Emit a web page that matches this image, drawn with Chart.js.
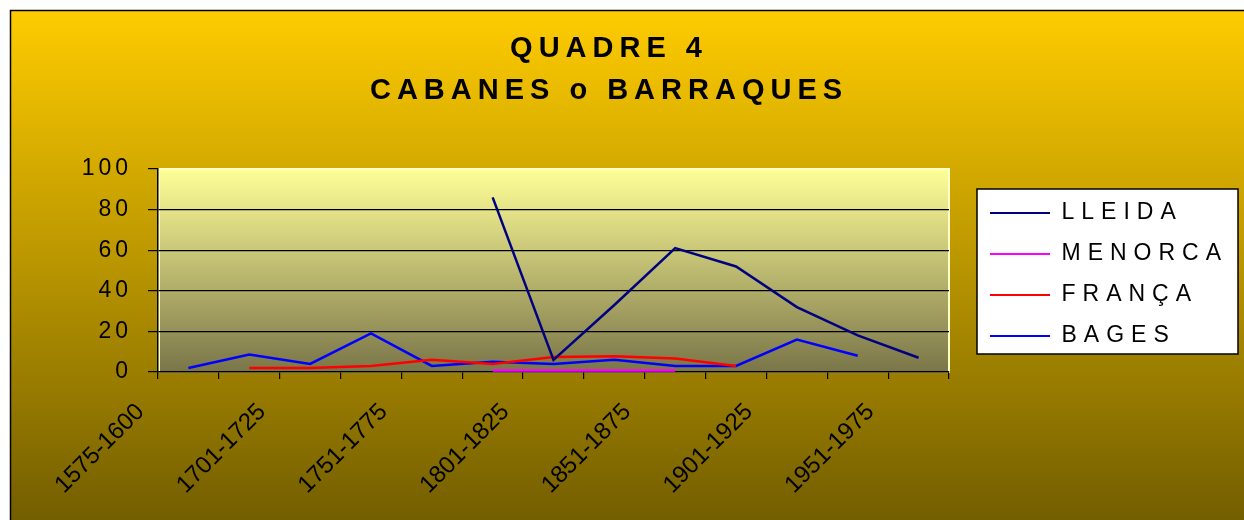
<!DOCTYPE html>
<html>
<head>
<meta charset="utf-8">
<title>Quadre 4</title>
<script src="https://cdn.jsdelivr.net/npm/chart.js@4.4.1/dist/chart.umd.min.js"></script>
<style>
  html, body { margin: 0; padding: 0; background: #fff; }
  canvas { display: block; }
</style>
</head>
<body>
<canvas id="chart" width="1244" height="520"></canvas>
<script>
// data
const periods = ["1575-1600", "1676-1700", "1701-1725", "1726-1750", "1751-1775", "1776-1800",
  "1801-1825", "1826-1850", "1851-1875", "1876-1900", "1901-1925", "1926-1950", "1951-1975"];
const lleida  = [null, null, null, null, null, 86, 6, 33, 61, 52, 32, 18, 7];
const menorca = [null, null, null, null, null, 0.7, 0.7, 0.7, 0.7, null, null, null, null];
const franca  = [null, 2, 2, 3, 6, 4, 7.4, 7.8, 6.6, 3, null, null, null];
const bages   = [2, 8.6, 4, 19, 3, 5, 4, 6, 3, 3, 16, 8, null];
const yTicks  = [0, 20, 40, 60, 80, 100];
const titleLines = ["QUADRE 4", "CABANES o BARRAQUES"];

const FONT = "'Liberation Sans', Arial, sans-serif";

// letter spacing (and an optional shift) around one draw/fit method
function withSpacing(obj, key, spacing, dx, dy) {
  if (!obj || !obj[key] || obj[key]._spaced) return;
  const orig = obj[key];
  const wrapped = function () {
    const ctx = this.ctx;
    ctx.save();
    ctx.letterSpacing = spacing;
    ctx.translate(dx || 0, dy || 0);
    const out = orig.apply(this, arguments);
    ctx.restore();
    return out;
  };
  wrapped._spaced = true;
  obj[key] = wrapped;
}

// gold background, plot gradient, white legend box
const backdrop = {
  id: "backdrop",
  beforeLayout(chart) {
    withSpacing(chart.legend, "fit", "7px");
  },
  beforeDraw(chart) {
    withSpacing(chart.titleBlock, "draw", "6px");
    withSpacing(chart.legend, "draw", "7px", 23, 4);
    withSpacing(chart.scales.y, "drawLabels", "4px");

    const { ctx, chartArea: a, legend, width, height } = chart;
    ctx.save();
    ctx.fillStyle = "#fff";
    ctx.fillRect(0, 0, width, height);

    const g = ctx.createLinearGradient(0, 10, 0, height);
    g.addColorStop(0, "#FFCC00");
    g.addColorStop(1, "#735E00");
    ctx.fillStyle = g;
    ctx.fillRect(10, 10, width - 10, height - 10);
    ctx.strokeStyle = "#000";
    ctx.lineWidth = 1.5;
    ctx.beginPath();
    ctx.moveTo(10.5, height);
    ctx.lineTo(10.5, 10.5);
    ctx.lineTo(width, 10.5);
    ctx.stroke();

    const pg = ctx.createLinearGradient(0, a.top, 0, a.bottom);
    pg.addColorStop(0, "#FFFF99");
    pg.addColorStop(1, "#7A7548");
    ctx.fillStyle = pg;
    ctx.fillRect(a.left, a.top, a.right - a.left, a.bottom - a.top);
    ctx.strokeStyle = "#FFFFC8";
    ctx.lineWidth = 2;
    ctx.strokeRect(a.left + 1, a.top, a.right - a.left - 1, a.bottom - a.top);

    const lx = legend.left + 28, ly = legend.top + 20;
    ctx.fillStyle = "#fff";
    ctx.fillRect(lx, ly, 261, 165);
    ctx.strokeStyle = "#000";
    ctx.lineWidth = 1.5;
    ctx.strokeRect(lx, ly, 261, 165);
    ctx.restore();
  }
};

new Chart(document.getElementById("chart"), {
  type: "line",
  data: {
    labels: periods,
    datasets: [
      { label: "LLEIDA", data: lleida, borderColor: "#000080", backgroundColor: "#000080" },
      { label: "MENORCA", data: menorca, borderColor: "#FF00FF", backgroundColor: "#FF00FF" },
      { label: "FRANÇA", data: franca, borderColor: "#FF0000", backgroundColor: "#FF0000" },
      { label: "BAGES", data: bages, borderColor: "#0000FF", backgroundColor: "#0000FF" },
    ],
  },
  options: {
    responsive: false,
    animation: false,
    layout: { padding: { left: 10, right: 36, top: 0, bottom: 0 } },
    elements: {
      point: { radius: 0, hoverRadius: 0, borderWidth: 2 },
      line: { tension: 0, borderWidth: 2.5, fill: false },
    },
    plugins: {
      title: {
        display: true,
        text: titleLines,
        color: "#000",
        font: { family: FONT, size: 29, weight: "bold", lineHeight: 42 / 29 },
        padding: { top: 28, bottom: 57 },
      },
      legend: {
        position: "right",
        fullSize: false,
        maxWidth: 259,
        labels: {
          color: "#000",
          font: { family: FONT, size: 23 },
          usePointStyle: true,
          pointStyle: "line",
          pointStyleWidth: 60,
          padding: 18,
        },
      },
      tooltip: { enabled: false },
    },
    scales: {
      x: {
        offset: true,
        grid: { offset: true, drawOnChartArea: false, drawTicks: true, tickLength: 7, tickColor: "#000", lineWidth: 1.2 },
        border: { color: "#000", width: 1.5 },
        ticks: {
          autoSkip: false,
          minRotation: 45,
          maxRotation: 45,
          labelOffset: -48,
          padding: 19,
          color: "#000",
          font: { family: FONT, size: 24 },
          callback: (v, i) => (i % 2 ? "" : periods[i]),
        },
        afterFit: (s) => { s.height = 148; },
      },
      y: {
        min: 0,
        max: 100,
        afterBuildTicks: (axis) => { axis.ticks = yTicks.map((v) => ({ value: v })); },
        grid: {
          color: (c) => (c.tick && c.tick.value === 100 ? "rgba(0,0,0,0)" : "#000"),
          tickColor: "#000",
          tickLength: 10,
          lineWidth: 1.2,
        },
        border: { color: "#000", width: 1.5 },
        ticks: { padding: 16, color: "#000", font: { family: FONT, size: 23 } },
        afterFit: (s) => { s.width = 148; },
      },
    },
  },
  plugins: [backdrop],
});
</script>
</body>
</html>
